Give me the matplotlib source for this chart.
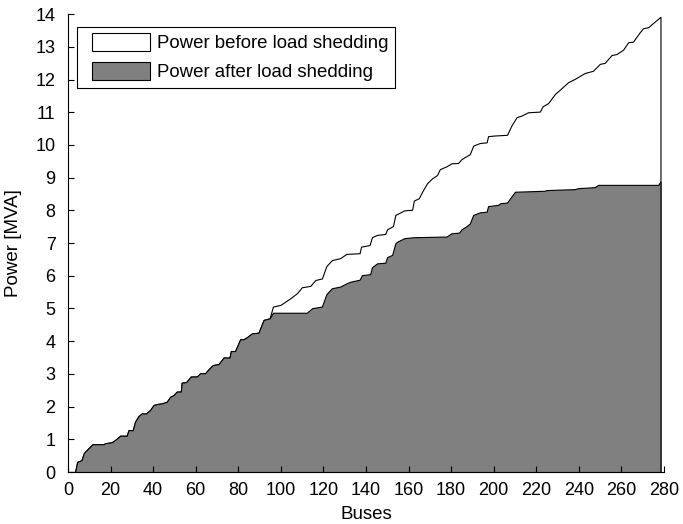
import matplotlib
matplotlib.use("Agg")
import matplotlib.pyplot as plt
from matplotlib.patches import Patch, Rectangle
from matplotlib.legend_handler import HandlerPatch

plt.rcParams['font.family'] = ['Liberation Sans', 'DejaVu Sans']
plt.rcParams['font.size'] = 13

# Power after load shedding (bus index, MVA)
after_x = [0, 3.3, 4.3, 6.3, 7.5, 9.5, 11.5, 16.7, 17.4, 20.5, 22.1, 24.5, 27.6, 28.4,
           30.4, 31.5, 33.1, 34.6, 36.6, 38.6, 40.2, 42.0, 44.1, 46.4, 48.0, 49.5, 51.1,
           53.0, 53.4, 55.5, 57.7, 60.5, 62.1, 64.4, 66.0, 68.0, 70.7, 73.1, 75.9, 76.5,
           78.5, 80.9, 82.4, 84.0, 86.4, 89.5, 91.9, 94.7, 96.3, 112.2, 114.7, 119.3,
           121.4, 124.0, 127.9, 130.8, 132.7, 137.0, 138.1, 142.0, 142.8, 145.2, 149.1,
           149.9, 152.3, 153.8, 154.6, 158.0, 162.5, 177.9, 180.2, 183.8, 184.9, 187.3,
           188.8, 190.4, 193.5, 196.7, 197.4, 202.1, 203.2, 206.3, 210.0, 224.0, 224.8,
           238.1, 239.7, 247.5, 249.1, 277.3, 278.4]
after_y = [0, 0, 0.31, 0.36, 0.59, 0.72, 0.85, 0.85, 0.88, 0.91, 0.98, 1.11, 1.11, 1.28,
           1.28, 1.54, 1.71, 1.79, 1.79, 1.90, 2.05, 2.08, 2.10, 2.15, 2.30, 2.35, 2.46,
           2.46, 2.73, 2.75, 2.92, 2.92, 3.02, 3.02, 3.14, 3.27, 3.30, 3.50, 3.50, 3.70,
           3.70, 4.06, 4.06, 4.12, 4.24, 4.26, 4.65, 4.70, 4.87, 4.87, 5.01, 5.06,
           5.44, 5.62, 5.67, 5.77, 5.82, 5.88, 6.02, 6.05, 6.26, 6.38, 6.40,
           6.57, 6.64, 6.99, 7.04, 7.15, 7.18, 7.20, 7.30, 7.32, 7.42, 7.52,
           7.60, 7.86, 7.94, 7.96, 8.13, 8.17, 8.22, 8.24, 8.57, 8.60, 8.62,
           8.65, 8.68, 8.71, 8.78, 8.78, 8.88]

# Power before load shedding (bus index, MVA)
before_x = [0, 3.3, 4.3, 6.3, 7.5, 9.5, 11.5, 16.7, 17.4, 20.5, 22.1, 24.5, 27.6, 28.4,
            30.4, 31.5, 33.1, 34.6, 36.6, 38.6, 40.2, 42.0, 44.1, 46.4, 48.0, 49.5, 51.1,
            53.0, 53.4, 55.5, 57.7, 60.5, 62.1, 64.4, 66.0, 68.0, 70.7, 73.1, 75.9, 76.5,
            78.5, 80.9, 82.4, 84.0, 86.4, 89.5, 91.9, 94.7, 96.3, 99.8, 102.1, 104.4,
            107.6, 109.9, 113.8, 116.2, 119.3, 121.4, 124.0, 127.9, 130.8, 137.0, 137.7,
            141.7, 142.8, 145.2, 149.1, 149.9, 152.7, 153.8, 158.0, 161.7, 162.5, 164.8,
            166.4, 168.7, 171.1, 173.4, 174.7, 177.9, 180.2, 183.3, 184.9, 188.8, 190.4,
            193.5, 196.7, 197.4, 200.6, 206.3, 208.4, 210.8, 213.1, 216.2, 221.7, 223.0,
            225.6, 228.8, 231.1, 235.0, 238.1, 242.8, 246.7, 249.9, 252.2, 255.4, 257.7,
            260.8, 263.2, 265.5, 268.7, 270.2, 272.6, 274.9, 278.4]
before_y = [0, 0, 0.31, 0.36, 0.59, 0.72, 0.85, 0.85, 0.88, 0.91, 0.98, 1.11, 1.11, 1.28,
            1.28, 1.54, 1.71, 1.79, 1.79, 1.90, 2.05, 2.08, 2.10, 2.15, 2.30, 2.35, 2.46,
            2.46, 2.73, 2.75, 2.92, 2.92, 3.02, 3.02, 3.14, 3.27, 3.30, 3.50, 3.50, 3.70,
            3.70, 4.06, 4.06, 4.12, 4.24, 4.26, 4.65, 4.70, 5.06, 5.11, 5.21, 5.31,
            5.47, 5.65, 5.69, 5.87, 5.92, 6.30, 6.48, 6.54, 6.67, 6.69, 6.89,
            6.94, 7.18, 7.25, 7.28, 7.42, 7.52, 7.86, 8.00, 8.02, 8.30, 8.37,
            8.57, 8.83, 8.98, 9.08, 9.26, 9.35, 9.44, 9.45, 9.57, 9.72, 9.98,
            10.06, 10.08, 10.27, 10.29, 10.31, 10.60, 10.85, 10.90, 11.00, 11.02, 11.18,
            11.28, 11.56, 11.69, 11.92, 12.02, 12.20, 12.27, 12.48, 12.51, 12.75, 12.78,
            12.91, 13.14, 13.16, 13.45, 13.57, 13.60, 13.73, 13.92]

labels = ['Power before load shedding', 'Power after load shedding']
x_ticks = list(range(0, 281, 20))
y_ticks = list(range(0, 15))

fig = plt.figure(figsize=(6.83, 5.24), dpi=100)
ax = fig.add_axes([0.0996, 0.0992, 0.8724, 0.8738])

ax.fill_between(before_x, before_y, 0, facecolor='white', edgecolor='black', linewidth=0.8)
ax.fill_between(after_x, after_y, 0, facecolor='#808080', edgecolor='black', linewidth=0.8)

ax.set_xlim(0, 280)
ax.set_ylim(0, 14)
ax.set_xticks(x_ticks)
ax.set_yticks(y_ticks)
ax.tick_params(direction='in', length=4, width=0.8, top=False, right=False, labelsize=13)
ax.tick_params(axis='y', pad=9)
ax.tick_params(axis='x', pad=7)
for s in ['top', 'right']:
    ax.spines[s].set_visible(False)
for s in ['left', 'bottom']:
    ax.spines[s].set_linewidth(0.8)

ax.set_xlabel('Buses', labelpad=5, fontsize=13.5)
ax.set_ylabel('Power [MVA]', labelpad=10, fontsize=13.5)


def make_patch(legend, orig_handle, xdescent, ydescent, width, height, fontsize):
    off = 6
    return Rectangle((-xdescent + off, -ydescent), width - off, height)


handles = [Patch(facecolor='white', edgecolor='black', linewidth=0.8),
           Patch(facecolor='#808080', edgecolor='black', linewidth=0.8)]
leg = ax.legend(handles, labels, loc='upper left', bbox_to_anchor=(0.0156, 0.9727),
                borderaxespad=0,
                handler_map={Patch: HandlerPatch(patch_func=make_patch)},
                handlelength=3.55, handleheight=1.1, handletextpad=0.4,
                borderpad=0.35, labelspacing=0.5, fancybox=False, framealpha=1,
                edgecolor='black', fontsize=13.4)
leg.get_frame().set_linewidth(0.8)

fig.savefig('out.png', dpi=100)
